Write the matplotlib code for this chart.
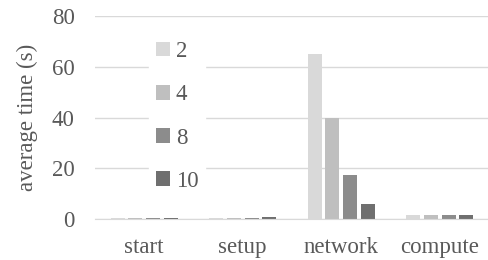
import matplotlib.pyplot as plt
import numpy as np

categories = ["start", "setup", "network", "compute"]
series_labels = ["2", "4", "8", "10"]
values_2 = [0.2, 0.4, 65.0, 1.5]
values_4 = [0.2, 0.4, 39.8, 1.5]
values_8 = [0.2, 0.3, 17.3, 1.5]
values_10 = [0.2, 0.8, 5.9, 1.5]
colors = ["#d9d9d9", "#bfbfbf", "#8c8c8c", "#6f6f6f"]

plt.rcParams['font.family'] = ['Liberation Serif', 'DejaVu Serif']
text_color = "#595959"
fs = 16.5

fig = plt.figure(figsize=(4.89, 2.60), dpi=100)
ax = fig.add_axes([95 / 489, 41 / 260, 394 / 489, 203 / 260])

x = np.arange(len(categories))
width = 0.142
step = 0.178
for i, (vals, lab, col) in enumerate(zip([values_2, values_4, values_8, values_10], series_labels, colors)):
    ax.bar(x + (i - 1.5) * step, vals, width, color=col, label=lab, zorder=2)

ax.set_xlim(-0.5, len(categories) - 0.5)
ax.set_ylim(0, 80)
ax.set_yticks([0, 20, 40, 60, 80])
ax.set_xticks(x)
ax.set_xticklabels(categories)
ax.tick_params(length=0, labelsize=fs, colors=text_color)
ax.tick_params(axis='x', pad=13)
ax.tick_params(axis='y', pad=14.5)
ax.grid(axis='y', color="#d9d9d9", linewidth=1, zorder=0)
for s in ["top", "right", "left"]:
    ax.spines[s].set_visible(False)
ax.spines["bottom"].set_color("#d9d9d9")
ax.set_ylabel("average time (s)", fontsize=fs, color=text_color, labelpad=10)

leg = ax.legend(loc="upper left", bbox_to_anchor=(0.138, 0.91), frameon=True,
                fontsize=fs, labelspacing=0.97, handlelength=0.6, handleheight=0.6,
                handletextpad=0.25, borderpad=0.3, borderaxespad=0)
leg.get_frame().set_edgecolor("white")
leg.get_frame().set_facecolor("white")
leg.get_frame().set_alpha(1)
for t in leg.get_texts():
    t.set_color(text_color)

fig.savefig("out.png", dpi=100)
